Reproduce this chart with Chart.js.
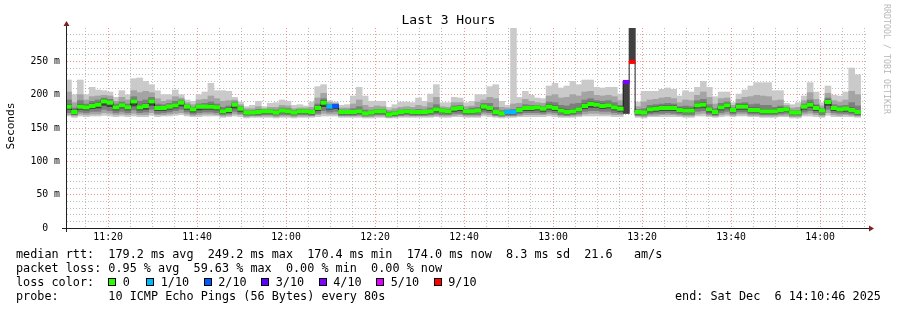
<!DOCTYPE html>
<html><head><meta charset="utf-8">
<script src="https://cdn.jsdelivr.net/npm/chart.js@4/dist/chart.umd.min.js"></script>
<style>
html,body{margin:0;padding:0;background:#fff;}
#wrap{position:relative;width:897px;height:310px;overflow:hidden;background:#fff;font-family:'DejaVu Sans Mono',monospace;color:#000;}
#c{position:absolute;left:0;top:0;}
.t{position:absolute;white-space:pre;font-size:11.8px;line-height:14px;}
.box{position:absolute;width:6px;height:6px;border:1px solid #000;top:278px;}
</style></head><body>
<div id="wrap">
<canvas id="c" width="897" height="310"></canvas>
<div class="t" style="left:0;width:897px;text-align:center;top:12px;font-size:13px;line-height:16px;">Last 3 Hours</div>
<div class="t" style="left:-39px;top:119px;width:100px;text-align:center;font-size:11.2px;transform:rotate(-90deg);">Seconds</div>
<div class="t" style="left:892px;top:4px;font-size:8.3px;line-height:10px;color:#b8b8b8;transform-origin:0 0;transform:rotate(90deg);">RRDTOOL / TOBI OETIKER</div>

<div class="t" style="left:16px;top:247px;">median rtt:  179.2 ms avg  249.2 ms max  170.4 ms min  174.0 ms now  8.3 ms sd  21.6   am/s</div>
<div class="t" style="left:16px;top:261px;">packet loss: 0.95 % avg  59.63 % max  0.00 % min  0.00 % now</div>
<div class="t" style="left:16px;top:275px;">loss color:</div>
<div id="legend"></div>
<div class="t" style="left:16px;top:289px;">probe:       10 ICMP Echo Pings (56 Bytes) every 80s</div>
<div class="t" style="left:675px;top:289px;">end: Sat Dec  6 14:10:46 2025</div>
</div>
<script>
// ---- data (seconds; values in ms) ----
const endTime = '14:10:46';
const firstStepEnd = '11:11:46';
const stepSeconds = 80;
const tickLabels = ['11:20','11:40','12:00','12:20','12:40','13:00','13:20','13:40','14:00'];
const lossLabels = ['0','1/10','2/10','3/10','4/10','5/10','9/10'];
const lossLegendColors = ['#26ff00','#00b8ff','#0059ff','#5e00ff','#7e00ff','#dd00ff','#ff0000'];

const med = [182,174,182,181,183,185,190,188,181,184, 181,190,181,183,190,180,180,182,184,188,
 182,178,182,182,182,181,175,177,185,179, 173,173,174,175,175,173,176,175,173,175,
 175,174,180,188,182,183,174,174,174,175, 172,173,175,175,170.4,172,174,175,174,174,
 174,175,178,176,175,179,180,175,175,176, 182,180,174,172,174,174,177,180,180,181,
 179,182,180,176,174,175,178,183,186,185, 183,184,181,179,219,249.2,174,173,178,179,
 180,180,180,177,176,176,184,185,178,174, 181,184,177,182,182,177,177,175,175,175,
 177,178,173,173,182,185,180,176,189,180, 178,179,177,174];
const loss = [0,0,0,0,0,0,0,0,0,0, 0,0,0,0,0,0,0,0,0,0, 0,0,0,0,0,0,0,0,0,0, 0,0,0,0,0,0,0,0,0,0,
 0,0,0,0,1,2,0,0,0,0, 0,0,0,0,0,0,0,0,0,0, 0,0,0,0,0,0,0,0,0,0, 0,0,0,0,1,1,0,0,0,0,
 0,0,0,0,0,0,0,0,0,0, 0,0,0,0,4,9,0,0,0,0, 0,0,0,0,0,0,0,0,0,0, 0,0,0,0,0,0,0,0,0,0,
 0,0,0,0,0,0,0,0,0,0, 0,0,0,0];
const mx = [222,200,222,200,211,207,206,204,196,206, 200,224,225,220,215,206,200,200,207,200,
 192,190,200,204,217,206,206,205,196,189, 182,184,190,182,187,188,192,190,184,185,
 183,189,212,215,191,189,184,185,198,211, 198,190,190,190,181,185,189,189,188,195,
 190,201,215,188,188,196,195,188,190,200, 200,212,215,190,184,305,196,205,199,195,
 194,213,217,210,213,220,215,222,222,211, 210,211,211,201,220,310,189,205,205,205,
 208,210,208,198,206,204,211,220,211,197, 204,204,188,201,207,213,218,218,218,206,
 206,187,185,188,198,218,204,188,213,199, 198,204,240,230];
const hi2 = [204,188,200,192,197,198,199,198,190,196, 192,206,203,205,203,194,190,192,197,195,
 188,185,192,193,198,194,190,191,192,185, 179,179,182,179,181,181,184,183,179,180,
 180,181,195,202,188,187,180,180,186,192, 184,181,183,182,177,179,181,182,181,184,
 182,188,196,182,181,188,188,182,183,189, 192,196,194,181,180,186,187,193,190,188,
 187,198,200,195,196,200,198,204,205,199, 198,199,197,191,220,310,182,189,192,193,
 195,196,194,188,192,191,199,204,196,186, 194,195,184,193,196,197,199,198,197,191,
 192,184,180,181,191,203,193,183,202,191, 189,192,205,200];
const hi3 = [192,180,191,186,190,192,195,193,186,189, 186,197,190,192,196,186,185,187,190,192,
 185,181,186,187,189,186,181,183,189,182, 176,176,178,177,178,177,180,179,176,178,
 177,177,186,194,185,185,177,177,179,182, 177,176,178,178,174,175,177,178,177,178,
 177,180,185,179,178,183,184,178,180,181, 187,187,181,176,177,178,181,185,184,184,
 182,189,188,184,183,186,187,192,194,191, 190,191,188,184,220,310,178,179,184,185,
 186,187,186,182,183,182,191,193,185,179, 187,189,180,187,188,185,186,184,184,181,
 183,181,176,176,186,192,185,179,195,185, 183,184,188,183];
const hi4 = [185,177,185,184,186,188,193,190,184,186, 183,193,184,186,193,183,182,184,187,190,
 184,180,184,184,185,183,178,180,187,181, 175,175,176,177,177,175,178,177,175,177,
 177,176,183,191,184,185,176,176,176,177, 174,175,177,177,173,174,176,177,176,176,
 176,177,181,178,177,181,182,177,177,178, 184,182,176,174,176,176,179,182,182,183,
 181,185,183,179,177,178,181,186,189,188, 186,187,184,182,220,310,176,175,181,182,
 183,183,183,180,179,179,187,188,181,176, 184,187,179,185,185,180,180,178,178,178,
 180,180,175,175,184,188,183,178,192,182, 180,181,180,176];
const lo4 = [178,171,178,177,179,180,184,182,177,180, 177,183,177,178,184,176,176,178,180,183,
 178,174,177,178,178,177,172,173,180,175, 170,170,171,172,172,170,173,172,170,172,
 172,171,176,182,178,179,171,171,171,172, 170,170,172,172,168.5,169,171,172,171,171,
 171,172,174,173,172,175,176,172,172,173, 178,176,171,170,171,171,174,176,176,177,
 175,178,176,173,171,172,175,179,181,181, 179,180,177,175,172,250,171,170,174,175,
 176,176,176,174,173,173,180,181,174,171, 177,180,174,178,178,174,174,172,172,172,
 174,175,170,170,178,181,176,173,184,176, 175,175,174,171];
const lo3 = [173,170,174,173,175,175,178,176,173,175, 173,177,173,174,178,172,173,174,176,178,
 174,171,173,174,174,173,170,171,175,172, 169,169,169,170,170,169,170,170,169,170,
 170,169,172,176,174,175,169,169,169,170, 168,169,170,170,167.5,168,169,170,169,169,
 169,170,171,170,170,172,172,170,170,170, 174,173,169,168,169,169,171,173,173,173,
 172,174,173,170,169,170,171,175,176,176, 175,175,173,172,172,250,169,169,171,172,
 172,173,172,171,170,170,175,176,171,169, 173,175,171,174,174,171,171,170,170,170,
 171,172,169,169,174,176,173,170,178,173, 172,172,171,169];
const lo2 = [170,168,171,170,171,171,173,172,170,171, 170,172,170,170,173,170,170,171,172,173,
 171,169,170,171,171,170,168,169,171,170, 167,168,168,168,168,167,168,168,167,168,
 168,168,170,172,171,171,168,168,168,168, 167,167,168,168,166,167,168,168,168,168,
 168,168,169,168,168,169,170,168,168,168, 171,170,168,167,168,168,169,170,170,170,
 170,171,170,168,168,168,169,171,172,172, 171,171,170,170,172,250,168,167,169,169,
 170,170,170,169,168,168,171,172,169,168, 170,171,169,171,171,169,169,168,168,168,
 169,169,167,167,171,172,170,168,173,170, 169,170,169,168];
const mn = [168,166,168,167,168,168,169,168,167,168, 167,168,167,167,169,167,168,168,169,170,
 168,167,167,168,168,168,166,167,168,167, 165,166,166,166,166,165,166,166,165,166,
 166,166,167,168,168,168,166,166,166,166, 165,165,166,166,165,165,166,166,166,166,
 166,166,167,166,166,167,167,166,166,166, 168,167,166,165,166,166,167,167,167,167,
 167,168,167,166,166,166,167,168,168,168, 168,168,167,167,172,250,166,165,167,167,
 167,167,167,167,166,166,168,168,167,166, 167,168,167,168,168,167,167,166,166,166,
 167,167,165,165,168,168,167,166,169,167, 167,167,167,166];

// ---- helpers ----
const toSec = s => { const p = s.split(':').map(Number); return p[0]*3600 + p[1]*60 + (p[2]||0); };
const fmt = v => { const h = Math.floor(v/3600), m = Math.floor((v%3600)/60); return String(h).padStart(2,'0') + ':' + String(m).padStart(2,'0'); };
const END = toSec(endTime), START = END - 3*3600;
const xs = med.map((_, j) => toSec(firstStepEnd) + j*stepSeconds - stepSeconds/2);
const lossColorOf = l => l >= 6 ? lossLegendColors[6] : lossLegendColors[l];
const majorLabelSet = new Set(tickLabels);
const xTicks = [];
for (let v = Math.ceil(START/300)*300; v <= END; v += 300) xTicks.push(v);
const isMajorX = v => v % 1200 === 0 && majorLabelSet.has(fmt(v));

const MAJOR = 'rgba(222,79,79,0.6)';
const MINOR = 'rgba(143,143,143,0.6)';
const BAND = 2.6; // half thickness of loss-colour band (ms)

// legend boxes
const lg = document.getElementById('legend');
const boxX = [108,146,203.5,261,318.5,376,433.5];
lossLabels.forEach((lab, i) => {
  const b = document.createElement('div'); b.className = 'box';
  b.style.left = boxX[i] + 'px'; b.style.background = lossLegendColors[i]; lg.appendChild(b);
  const t = document.createElement('div'); t.className = 't';
  t.style.left = (boxX[i] + 14.7) + 'px'; t.style.top = '275px'; t.textContent = lab; lg.appendChild(t);
});

const layer = (lo, hi, color, order) => ({
  type: 'bar', order, grouped: false, barPercentage: 1, categoryPercentage: 1, borderWidth: 0,
  backgroundColor: color,
  data: xs.map((x, i) => ({x, y: [lo[i], hi[i]]}))
});

const axesPlugin = {
  id: 'axes',
  afterDraw(chart) {
    const {ctx, chartArea: a} = chart;
    ctx.save();
    ctx.strokeStyle = '#1f1f1f'; ctx.lineWidth = 1;
    ctx.beginPath();
    ctx.moveTo(a.left - 5, a.bottom + 0.5); ctx.lineTo(a.right + 2, a.bottom + 0.5);
    ctx.moveTo(a.left - 0.5, a.bottom + 4); ctx.lineTo(a.left - 0.5, a.top - 3);
    ctx.stroke();
    ctx.fillStyle = '#801f1f';
    ctx.beginPath();
    ctx.moveTo(a.left - 0.5, a.top - 7); ctx.lineTo(a.left - 3.5, a.top - 2); ctx.lineTo(a.left + 2.5, a.top - 2); ctx.closePath(); ctx.fill();
    ctx.beginPath();
    ctx.moveTo(a.right + 6, a.bottom + 0.5); ctx.lineTo(a.right + 1, a.bottom - 2.5); ctx.lineTo(a.right + 1, a.bottom + 3.5); ctx.closePath(); ctx.fill();
    ctx.restore();
  }
};

new Chart(document.getElementById('c'), {
  type: 'bar',
  data: {
    datasets: [
      layer(mn, mx, '#cacaca', 10),
      layer(lo2, hi2, '#a4a4a4', 9),
      layer(lo3, hi3, '#7e7e7e', 8),
      layer(lo4, hi4, '#404040', 7),
      { type: 'line', order: 2, data: xs.map((x, i) => ({x, y: med[i]})), stepped: 'middle',
        borderColor: '#1f1f1f', borderWidth: 1, pointRadius: 0, fill: false },
      { type: 'bar', order: 1, grouped: false, barPercentage: 1, categoryPercentage: 1, borderWidth: 0,
        backgroundColor: loss.map(lossColorOf),
        data: xs.map((x, i) => ({x, y: [med[i] - BAND, med[i] + BAND]})) }
    ]
  },
  options: {
    responsive: false, animation: false, events: [], devicePixelRatio: 1,
    layout: { padding: { left: 0, right: 29, top: 28, bottom: 0 } },
    plugins: { legend: { display: false }, tooltip: { enabled: false }, title: { display: false } },
    scales: {
      x: {
        type: 'linear', min: START, max: END, offset: false, z: 1,
        afterBuildTicks: s => { s.ticks = xTicks.map(v => ({value: v})); },
        afterFit: s => { s.height = 82; },
        grid: { offset: false, drawTicks: false, lineWidth: 1,
          color: c => (c.tick && isMajorX(c.tick.value)) ? MAJOR : MINOR },
        border: { display: false, dash: [1, 2] },
        ticks: { autoSkip: false, maxRotation: 0, padding: 4, color: '#000',
          font: { family: 'DejaVu Sans Mono', size: 9.8 },
          callback: v => isMajorX(v) ? fmt(v) : '' }
      },
      y: {
        type: 'linear', min: 0, max: 300, z: 1,
        afterFit: s => { s.width = 67; },
        grid: { drawTicks: false, lineWidth: 1,
          color: c => { const v = c.tick ? c.tick.value : 0; if (v === 0 || v === 300) return 'rgba(0,0,0,0)'; return v % 50 === 0 ? MAJOR : MINOR; } },
        border: { display: false, dash: [1, 2] },
        ticks: { stepSize: 10, autoSkip: false, padding: 7, color: '#000',
          font: { family: 'DejaVu Sans Mono', size: 9.8 },
          callback: v => v === 0 ? '0  ' : (v % 50 === 0 && v < 300 ? v + ' m' : '') }
      }
    }
  },
  plugins: [axesPlugin]
});
</script>
</body></html>
